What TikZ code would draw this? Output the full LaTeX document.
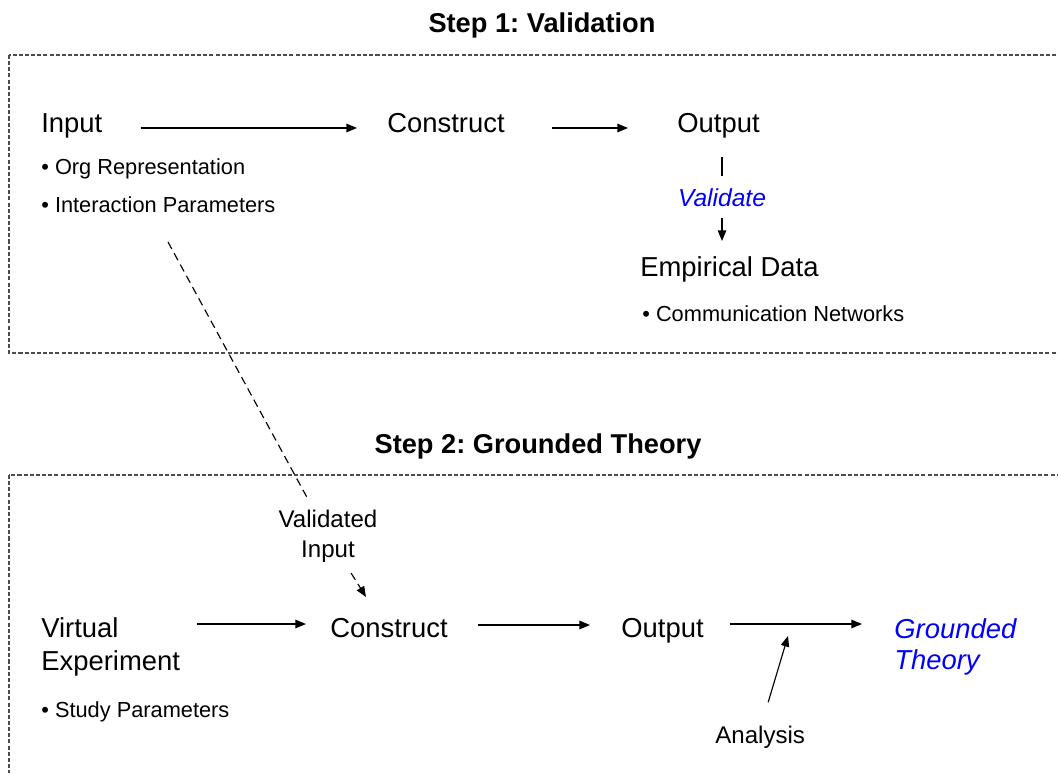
\documentclass[tikz,border=0pt]{standalone}
\usepackage{fontspec}
\setmainfont{Liberation Sans}
\frenchspacing
\usetikzlibrary{arrows.meta,calc}
\definecolor{theoryblue}{RGB}{0,0,255}
\tikzset{
    stepbox/.style={draw=black!70, line width=0.6pt, dash pattern=on 2.3pt off 1.2pt},
    steptitle/.style={font=\fontsize{15.5}{18}\selectfont\bfseries, inner sep=0pt, anchor=base},
    term/.style={font=\fontsize{15.6}{18.7}\selectfont, inner sep=0pt, anchor=base west},
    bulletitem/.style={font=\fontsize{12.4}{15}\selectfont, inner sep=0pt, anchor=base west},
    note/.style={font=\fontsize{13.7}{17}\selectfont, inner sep=0pt},
    result/.style={term, text=theoryblue, font=\fontsize{15.6}{18}\selectfont\itshape},
    flow/.style={-{Triangle[length=6pt,width=4.8pt]}, line width=0.65pt},
    feed/.style={dash pattern=on 4.5pt off 2.8pt, line width=0.65pt}
}
\begin{document}
\begin{tikzpicture}[x=0.02cm, y=-0.02cm]
                \clip (0,0) rectangle (1058,773);

                %Draw the validation step
                \draw[stepbox] (9,55) rectangle (1080,353);
                \node[steptitle] (title1) at (542,33) {Step 1: Validation};
                \node[term] (inp) at (41,133) {Input};
                \node[bulletitem] (org) at (41,175) {\textbullet\ Org Representation};
                \node[bulletitem] (ipar) at (41,213) {\textbullet\ Interaction Parameters};
                \node[term] (cons) at (387,133) {Construct};
                \node[term] (out) at (677,133) {Output};
                \node[note, anchor=base, text=theoryblue, font=\fontsize{14}{17}\selectfont\itshape] (val) at (722,207) {Validate};
                \node[term] (emp) at (640,277) {Empirical Data};
                \node[bulletitem] (comm) at (642,322) {\textbullet\ Communication Networks};

                \draw[flow] ($(inp.base east)+(38,-5)$) -- ($(cons.base west)+(-30,-5)$);
                \draw[flow] ($(cons.base east)+(47,-5)$) -- ($(out.base west)+(-49,-5)$);
                \draw[line width=0.65pt] ($(val.north |- out.base)+(0,24)$) -- ($(val.north)+(0,-13)$);
                \draw[flow] ($(val.base)+(0,11)$) -- ($(val.base |- emp.base)+(0,-36)$);

                %Draw the grounded theory step
                \draw[stepbox] (9,475) rectangle (1080,800);
                \node[steptitle] (title2) at (538,453) {Step 2: Grounded Theory};
                \node[term, anchor=north west, align=left] (ve) at (41,617) {Virtual\\Experiment};
                \node[bulletitem] (study) at (41,717) {\textbullet\ Study Parameters};
                \node[term] (cons2) at (330,637) {Construct};
                \node[term] (out2) at (621,637) {Output};
                \node[result, anchor=north west, align=left] (gt) at (894,618) {Grounded\\Theory};
                \node[note, anchor=base west] (ana) at (715,743) {Analysis};
                \coordinate (tap) at (788,636);

                \draw[flow] ($(cons2.base west -| ve.east)+(17,-13)$) -- ($(cons2.base west)+(-24,-13)$);
                \draw[flow] ($(cons2.base east)+(30,-12)$) -- ($(out2.base west)+(-31,-12)$);
                \draw[flow] ($(out2.base east)+(26,-13)$) -- ($(out2.base east -| gt.west)+(-32,-13)$);
                \draw[flow] ($(ana.north)+(8,-23)$) -- (tap);

                %Draw the validated input link
                \coordinate (vstart) at (168,242);
                \coordinate (vend) at (366,597);
                \node[note, align=center, anchor=north, inner sep=6pt] (vin) at (328,499) {Validated\\Input};
                \draw[feed] (vstart) -- (vin);
                \draw[feed, flow] (vin) -- (vend);

            \end{tikzpicture}
\end{document}
